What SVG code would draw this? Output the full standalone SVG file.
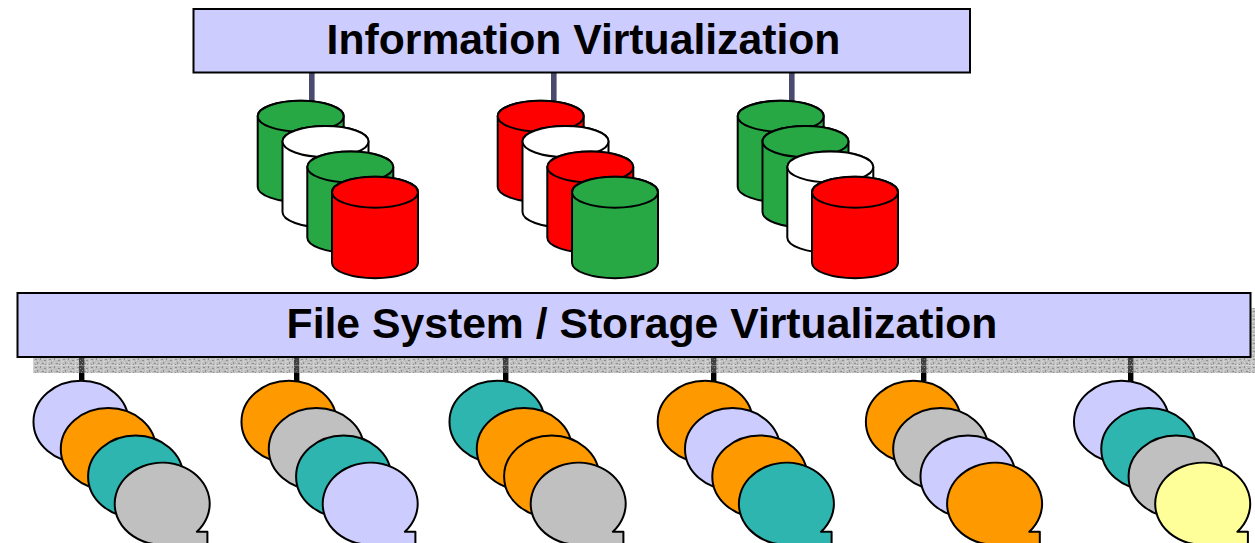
<svg xmlns="http://www.w3.org/2000/svg" width="1255" height="543" viewBox="0 0 1255 543">
<style>
.bar{fill:#ccccff;stroke:#000;stroke-width:2}
.lbl{font-family:"Liberation Sans",Arial,sans-serif;font-weight:700;font-size:42.7px;fill:#000;text-anchor:middle}
.s{fill:var(--c);stroke:#000;stroke-width:2;stroke-linejoin:round}
.top{stroke:#4a4a6e;stroke-width:5.6;fill:none}
.bot{stroke:#000;stroke-width:5.4;fill:none}
.g{--c:#28a745}.w{--c:#fff}.r{--c:#f00}.l{--c:#ccccff}.o{--c:#ff9900}.t{--c:#2fb5b0}.y{--c:#c0c0c0}.p{--c:#ffff99}
</style>
<defs>
<pattern id="dither" width="14" height="8" patternUnits="userSpaceOnUse" patternTransform="translate(33 358)">
<rect width="14" height="8" fill="#808080" fill-opacity=".5"/>
<rect x="0" y="0" width="1" height="8" fill="#fff" fill-opacity=".25"/>
<rect x="0" y="7" width="14" height="1" fill="#fff" fill-opacity=".3"/>
<path d="M2 1h2v1h-2zM7 0h1v2h-1zM11 2h2v1h-2zM4 4h1v2h-1zM9 5h2v1h-2zM2 6h1v1h-1zM12 6h1v1h-1z" fill="#606060" fill-opacity=".5"/>
<path d="M5 2h1v1h-1zM9 1h1v1h-1zM1 3h2v1h-2zM7 4h1v1h-1zM11 4h1v1h-1zM6 6h1v1h-1z" fill="#fff" fill-opacity=".35"/>
</pattern>
<g id="cyl"><path class="s" d="M-43 15.5V86A43 15.5 0 0 0 43 86V15.5A43 15.5 0 0 0 -43 15.5Z"/><ellipse class="s" cx="0" cy="15.5" rx="43" ry="15.5"/></g>
<path id="disc" class="s" d="M34 28H44.5V41H0A47.5 41 0 1 1 34 28Z"/>
<path id="oval" class="s" d="M0 -41A47.5 41 0 1 1 0 41A47.5 41 0 1 1 0 -41Z"/>
</defs>
<g id="connectors">
<path class="top" d="M311.8 73V101M553.8 73V101M791.8 73V101"/>
<path class="bot" d="M81.7 357V381M296.7 357V381M505.7 357V381M713.7 357V381M923.7 357V381M1130.7 357V381"/>
</g>
<g id="shadow">
<rect x="33" y="358" width="1222" height="15" fill="url(#dither)"/>
<rect x="1251" y="308" width="4" height="50" fill="url(#dither)"/>
</g>
<g id="info-virt"><rect class="bar" x="193.5" y="9" width="776.5" height="63.5"/><text class="lbl" x="583.5" y="54">Information Virtualization</text></g>
<g id="fs-virt"><rect class="bar" x="17.5" y="293" width="1233" height="64"/><text class="lbl" x="642" y="338">File System / Storage Virtualization</text></g>
<g id="cyls-1"><use href="#cyl" class="g" x="300.7" y="100.7"/><use href="#cyl" class="w" x="325.5" y="126"/><use href="#cyl" class="g" x="350.3" y="151.4"/><use href="#cyl" class="r" x="375" y="176.7"/></g>
<g id="cyls-2"><use href="#cyl" class="r" x="540.7" y="100.7"/><use href="#cyl" class="w" x="565.5" y="126"/><use href="#cyl" class="r" x="590.3" y="151.4"/><use href="#cyl" class="g" x="615" y="176.7"/></g>
<g id="cyls-3"><use href="#cyl" class="g" x="780.7" y="100.7"/><use href="#cyl" class="g" x="805.5" y="126"/><use href="#cyl" class="w" x="830.3" y="151.4"/><use href="#cyl" class="r" x="855" y="176.7"/></g>
<g id="discs-1"><use href="#oval" class="l" x="81" y="421.8"/><use href="#oval" class="o" x="108.3" y="449.1"/><use href="#oval" class="t" x="135.6" y="476.4"/><use href="#disc" class="y" x="162.9" y="503.7"/></g>
<g id="discs-2"><use href="#oval" class="o" x="289" y="421.8"/><use href="#oval" class="y" x="316.3" y="449.1"/><use href="#oval" class="t" x="343.6" y="476.4"/><use href="#disc" class="l" x="370.9" y="503.7"/></g>
<g id="discs-3"><use href="#oval" class="t" x="497" y="421.8"/><use href="#oval" class="o" x="524.3" y="449.1"/><use href="#oval" class="o" x="551.6" y="476.4"/><use href="#disc" class="y" x="578.9" y="503.7"/></g>
<g id="discs-4"><use href="#oval" class="o" x="705.2" y="421.8"/><use href="#oval" class="l" x="732.5" y="449.1"/><use href="#oval" class="o" x="759.8" y="476.4"/><use href="#disc" class="t" x="787.1" y="503.7"/></g>
<g id="discs-5"><use href="#oval" class="o" x="913.4" y="421.8"/><use href="#oval" class="y" x="940.7" y="449.1"/><use href="#oval" class="l" x="968" y="476.4"/><use href="#disc" class="o" x="995.3" y="503.7"/></g>
<g id="discs-6"><use href="#oval" class="l" x="1121.5" y="421.8"/><use href="#oval" class="t" x="1148.8" y="449.1"/><use href="#oval" class="y" x="1176.1" y="476.4"/><use href="#disc" class="p" x="1203.4" y="503.7"/></g>
</svg>
